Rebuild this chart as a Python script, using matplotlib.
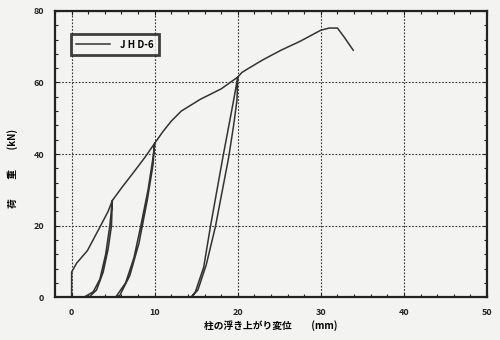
import matplotlib
matplotlib.use("Agg")
import matplotlib.pyplot as plt
from matplotlib.ticker import MultipleLocator

plt.rcParams['font.family'] = ['Noto Sans CJK JP', 'DejaVu Sans']

series_name = "J H D-6"
# displacement (mm) and load (kN) of the single continuous trace
disp = [0.0, 0.0, 0.6, 1.9, 3.5, 4.4, 4.9,
        4.6, 4.1, 3.4, 2.6, 1.5,
        2.1, 3.0, 3.8, 4.4, 4.8, 4.9,
        6.0, 7.5, 8.8, 10.0,
        9.8, 9.2, 8.3, 7.5, 6.5, 5.3,
        5.8, 7.0, 8.1, 9.1, 9.8, 10.0,
        11.0, 12.0, 13.2, 15.5, 18.0, 20.0,
        19.9, 19.5, 18.9, 17.3, 16.2, 15.2, 14.4,
        14.9, 15.9, 16.7, 18.2, 19.5, 20.0,
        20.5, 21.2, 23.0, 25.2, 27.5, 30.0, 31.0, 32.0, 32.8, 33.9]
load = [0.0, 7.0, 9.5, 13.0, 20.0, 24.0, 27.0,
        20.0, 12.0, 5.0, 1.5, 0.0,
        0.0, 2.0, 7.0, 13.5, 20.0, 27.0,
        30.5, 35.0, 39.0, 43.0,
        39.0, 30.0, 19.6, 11.0, 4.0, 0.0,
        0.5, 6.0, 15.0, 27.0, 37.0, 43.0,
        46.3, 49.2, 52.0, 55.3, 58.2, 61.5,
        55.0, 48.0, 39.0, 19.6, 9.0, 2.0, 0.0,
        1.5, 8.4, 19.6, 39.0, 55.0, 61.5,
        62.8, 63.8, 66.3, 69.0, 71.5, 74.6, 75.2, 75.2, 72.7, 69.0]

x_ticks = [0, 10, 20, 30, 40, 50]
y_ticks = [0, 20, 40, 60, 80]
x_label = "柱の浮き上がり変位　　(mm)"
y_label = "荷　　重　　(kN)"

fig = plt.figure(figsize=(5.0, 3.4), dpi=100, facecolor='#f3f3f1')
ax = fig.add_axes([0.11, 0.126, 0.864, 0.842])
ax.set_facecolor('#f3f3f1')

ax.plot(disp, load, color='#333333', lw=1.1, label=series_name)

ax.set_xlim(-2, 50)
ax.set_ylim(0, 80)
ax.set_xticks(x_ticks)
ax.set_yticks(y_ticks)
ax.xaxis.set_minor_locator(MultipleLocator(2))
ax.yaxis.set_minor_locator(MultipleLocator(4))
ax.tick_params(which='both', direction='in', top=True, right=True,
               labelsize=6.5, colors='#222222', width=0.8)
ax.tick_params(which='major', length=3)
ax.tick_params(which='minor', length=2)
for lbl in ax.get_xticklabels() + ax.get_yticklabels():
    lbl.set_fontweight('bold')
ax.tick_params(axis='x', pad=8)
ax.tick_params(axis='y', pad=8)

ax.grid(True, which='major', linestyle=(0, (1.5, 1.5)), color='#333333', lw=0.8)
for s in ax.spines.values():
    s.set_linewidth(1.6)
    s.set_color('#222222')

ax.set_xlabel(x_label, fontsize=7, fontweight='bold', labelpad=2)
ax.set_ylabel(y_label, fontsize=7, fontweight='bold')
ax.yaxis.set_label_coords(-0.085, 0.45)

leg = ax.legend(loc='upper left', bbox_to_anchor=(0.025, 0.935), fontsize=7,
                frameon=True, fancybox=False, handlelength=3.5,
                borderpad=0.55, handletextpad=1.0)
leg.get_frame().set_edgecolor('#111111')
leg.get_frame().set_linewidth(2.0)
leg.get_frame().set_facecolor('#f3f3f1')
for t in leg.get_texts():
    t.set_fontweight('bold')

fig.savefig('out.png', dpi=100, facecolor=fig.get_facecolor())
